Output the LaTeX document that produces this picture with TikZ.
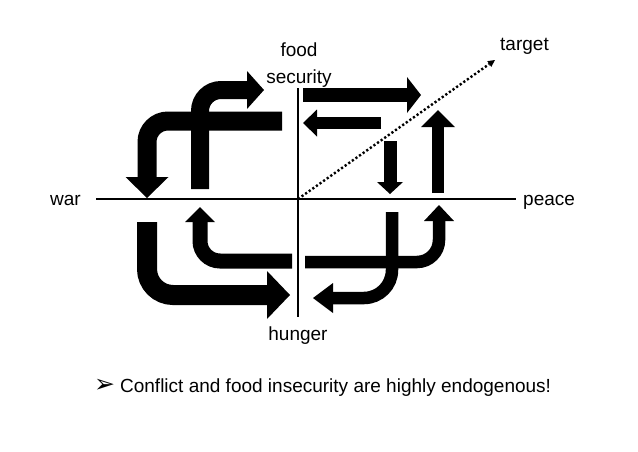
\documentclass[tikz,border=0pt]{standalone}
\usepackage{fontspec}
\setmainfont{Liberation Sans}
\newfontfamily\symfont{DejaVu Sans}
\usetikzlibrary{arrows.meta}
\begin{document}
\begin{tikzpicture}[x=1pt,y=-1pt,
  lbl/.style={inner sep=0pt,font=\fontsize{19}{23}\selectfont},
  axis/.style={line width=1.7pt},
  fat/.style={line width=#1, draw=black},
  hd/.style 2 args={-{Triangle[length=#1,width=#2,line width=0pt]}}
]
\fill[white] (0,0) rectangle (638,451);
\useasboundingbox (0,0) rectangle (638,451);

% axes
\coordinate (wl) at (96,199);
\coordinate (wr) at (516,199);
\coordinate (vt) at (298,88);
\coordinate (vb) at (298,317);
\coordinate (o) at (298,199);
\coordinate (tg) at (495,60);
\draw[axis] (wl) -- (wr);
\draw[axis] (vt) -- (vb);
\draw[line width=2.4pt,dash pattern=on 2.2pt off 2.2pt,-{Triangle[length=7pt,width=7pt,line width=0pt]}] (o) -- (tg);

% labels
\node[lbl,anchor=base] (food) at (299,56) {food};
\node[lbl,anchor=base] (sec) at (299,83) {security};
\node[lbl,anchor=base] (hun) at (298,340) {hunger};
\node[lbl,anchor=base west] (war) at (50,205) {war};
\node[lbl,anchor=base west] (peace) at (523,205) {peace};
\node[lbl,anchor=base west] (target) at (500,50) {target};
\node[lbl,anchor=base west] (note) at (94,392) {{\symfont\fontsize{25}{28}\selectfont ➢}\hspace{5pt}Conflict and food insecurity are highly endogenous!};

% top-left quadrant
\coordinate (a0) at (282,121);
\coordinate (a1) at (147,121);
\coordinate (a2) at (147,198);
\draw[fat=19pt,hd={21pt}{43pt},rounded corners=21pt] (a0) -- (a1) -- (a2);
\coordinate (b0) at (200,189);
\coordinate (b1) at (200,90);
\coordinate (b2) at (264,90);
\draw[fat=18pt,hd={17pt}{38pt},rounded corners=21pt] (b0) -- (b1) -- (b2);

% top-right quadrant
\coordinate (c0) at (303,95);
\coordinate (c1) at (421,95);
\draw[fat=14pt,hd={14pt}{36pt}] (c0) -- (c1);
\coordinate (d0) at (381,123);
\coordinate (d1) at (303,123);
\draw[fat=12.5pt,hd={14pt}{27pt}] (d0) -- (d1);
\coordinate (e0) at (390,141);
\coordinate (e1) at (390,194);
\draw[fat=13pt,hd={12pt}{26pt}] (e0) -- (e1);
\coordinate (f0) at (438,193);
\coordinate (f1) at (438,110);
\draw[fat=12.5pt,hd={17pt}{34pt}] (f0) -- (f1);

% bottom-left quadrant
\coordinate (g0) at (147,222);
\coordinate (g1) at (147,295);
\coordinate (g2) at (290,295);
\draw[fat=20pt,hd={23pt}{48pt},rounded corners=26pt] (g0) -- (g1) -- (g2);
\coordinate (h0) at (292,261);
\coordinate (h1) at (200,261);
\coordinate (h2) at (200,207);
\draw[fat=15pt,hd={15pt}{30pt},rounded corners=20pt] (h0) -- (h1) -- (h2);

% bottom-right quadrant
\coordinate (i0) at (305,262);
\coordinate (i1) at (439,262);
\coordinate (i2) at (439,205);
\draw[fat=12.5pt,hd={16pt}{30pt},rounded corners=22pt] (i0) -- (i1) -- (i2);
\coordinate (j0) at (392,212);
\coordinate (j1) at (392,298);
\coordinate (j2) at (313,298);
\draw[fat=12.5pt,hd={20pt}{30pt},rounded corners=28pt] (j0) -- (j1) -- (j2);
\end{tikzpicture}
\end{document}
